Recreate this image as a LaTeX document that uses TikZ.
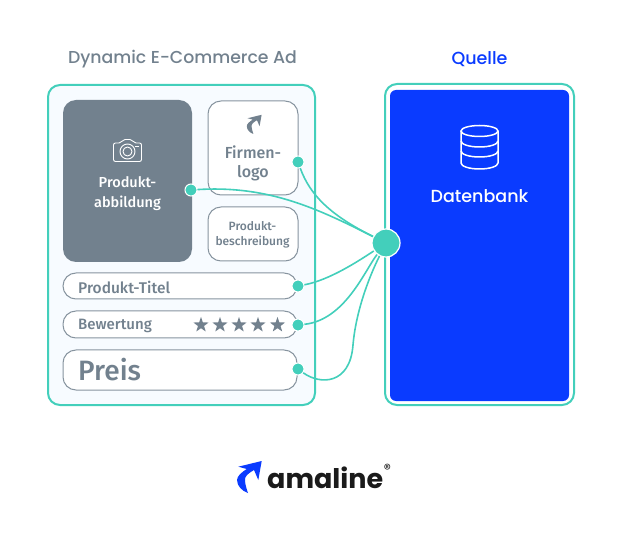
\documentclass[tikz,border=0pt]{standalone}
\usepackage{fontspec}
\setmainfont{Fira Sans Medium}
\newfontfamily\headfont{Poppins Medium}
\newfontfamily\brandfont{Poppins}
\usetikzlibrary{shapes.geometric}
\definecolor{teal1}{HTML}{43CFBB}
\definecolor{slate}{HTML}{72818E}
\definecolor{pale}{HTML}{F7FBFF}
\definecolor{brand}{HTML}{0A3BFF}
\definecolor{inkblack}{HTML}{1A1A1A}
\tikzset{
panel/.style={draw=teal1,line width=2pt,rounded corners=12pt,fill=pale,inner sep=0pt},
field/.style={draw=slate!85,line width=1pt,rounded corners=13pt,fill=white,inner sep=0pt},
label/.style={text=slate,inner sep=0pt,align=center},
dot/.style={circle,fill=teal1,draw=white,line width=1pt,minimum size=12pt,inner sep=0pt},
link/.style={draw=teal1,line width=1.6pt},
logomark/.pic={
  \fill (-10.7,-11.3) -- (12.7,-17) -- (9.3,2) -- (5,-8) .. controls (0,-5) and (-5,-2) .. (-4,3)
    .. controls (-3.5,8) and (-2,12) .. (-1,15) .. controls (-7,13) and (-12,8) .. (-12,2)
    .. controls (-12,-2) and (-7,-6) .. (-2.3,-9) -- cycle;
},
}
\begin{document}
\begin{tikzpicture}[x=1pt,y=-1pt]
\useasboundingbox (0,0) rectangle (624,537);
\node[label,font=\headfont\fontsize{17.3}{20}\selectfont] (adtitle) at (182.5,59) {Dynamic E-Commerce Ad};
\node[label,text=brand,font=\headfont\fontsize{17.5}{20}\selectfont] (quelletitle) at (479.5,59) {Quelle};

\node[panel,minimum width=267pt,minimum height=320pt] (adpanel) at (181.5,245) {};
\node[panel,fill=white,minimum width=189pt,minimum height=321pt] (quellepanel) at (479.5,244.5) {};
\node[panel,draw=none,fill=brand,rounded corners=6pt,minimum width=179pt,minimum height=311pt] (dbbox) at (479.5,245.5) {};

\node[field,draw=none,fill=slate,minimum width=129pt,minimum height=162pt] (imgbox) at (127.5,181) {};
\node[field,minimum width=90pt,minimum height=94pt] (logobox) at (253,148) {};
\node[field,minimum width=90pt,minimum height=54pt] (descbox) at (253,234) {};
\node[field,minimum width=234pt,minimum height=26pt] (titlebox) at (180,286) {};
\node[field,minimum width=234pt,minimum height=27pt] (ratingbox) at (180,324.5) {};
\node[field,minimum width=234pt,minimum height=40pt] (pricebox) at (180,370) {};

\node[label,text=white,font=\fontsize{14.5}{20}\selectfont] (imglabel) at (127.5,194) {Produkt-\\abbildung};
\node[label,font=\fontsize{16}{19.5}\selectfont] (logolabel) at (253,163.5) {Firmen-\\logo};
\node[label,font=\fontsize{12}{15}\selectfont] (desclabel) at (252.5,235) {Produkt-\\beschreibung};
\node[label,anchor=west,font=\fontsize{15.5}{18}\selectfont] (titlelabel) at (78,287) {Produkt-Titel};
\node[label,anchor=west,font=\fontsize{15}{18}\selectfont] (ratinglabel) at (78,325.5) {Bewertung};
\node[label,anchor=west,font=\fontsize{28}{30}\selectfont] (pricelabel) at (78,369.5) {Preis};
\node[label,text=white,font=\headfont\fontsize{17.5}{20}\selectfont] (dblabel) at (479.5,196) {Datenbank};

\foreach \i/\x in {1/201,2/220,3/239,4/258,5/277.5}
  \node[star,star points=5,star point ratio=2.5,fill=slate,inner sep=0pt,minimum size=16pt] (star\i) at (\x,325) {};

% camera
\draw[white,line width=0.9pt,rounded corners=2pt]
  (113.5,143) -- (121,143) -- (123,139.5) -- (132,139.5) -- (134,143) -- (141.5,143) -- (141.5,161.5) -- (113.5,161.5) -- cycle;
\draw[white,line width=0.9pt] (127.5,151.5) circle (7.5pt) (127.5,151.5) circle (4.5pt);
\draw[white,line width=0.9pt] (135,146) -- (139,146);

% database
\draw[white,line width=1.5pt] (461,131) -- (461,163) arc[start angle=180,end angle=360,x radius=18.5pt,y radius=6pt] -- (498,131);
\draw[white,line width=1.5pt] (479.5,131) ellipse[x radius=18.5pt,y radius=5.5pt];
\foreach \y in {141,151}
  \draw[white,line width=1.5pt] (461,\y) arc[start angle=180,end angle=360,x radius=18.5pt,y radius=6pt];

\path[fill=slate] (254,125) pic[scale=0.6] {logomark};

\node[dot] (imgdot) at (191,190) {};
\node[dot] (logodot) at (298,162) {};
\node[dot] (titledot) at (298,286) {};
\node[dot] (ratingdot) at (298,325) {};
\node[dot] (pricedot) at (298,369) {};
\node[dot,minimum size=28pt,line width=1.2pt] (hub) at (386,243) {};

\draw[link] (imgdot) .. controls (270,185) and (320,210) .. (hub);
\draw[link] (logodot) .. controls (310,195) and (330,215) .. (hub);
\draw[link] (titledot) .. controls (330,280) and (360,260) .. (hub);
\draw[link] (ratingdot) .. controls (345,320) and (365,270) .. (hub);
\draw[link] (pricedot) .. controls (320,385) and (350,385) .. (353,345) .. controls (356,310) and (370,275) .. (hub);

\path[fill=brand] (249,478) pic {logomark};
\node[label,anchor=base west,text=inkblack,font=\brandfont\bfseries\fontsize{27}{30}\selectfont] (brandname) at (267,488) {amaline};
\node[label,text=inkblack,font=\fontsize{11}{11}\selectfont] (brandmark) at (387.5,468.5) {®};
\end{tikzpicture}
\end{document}
